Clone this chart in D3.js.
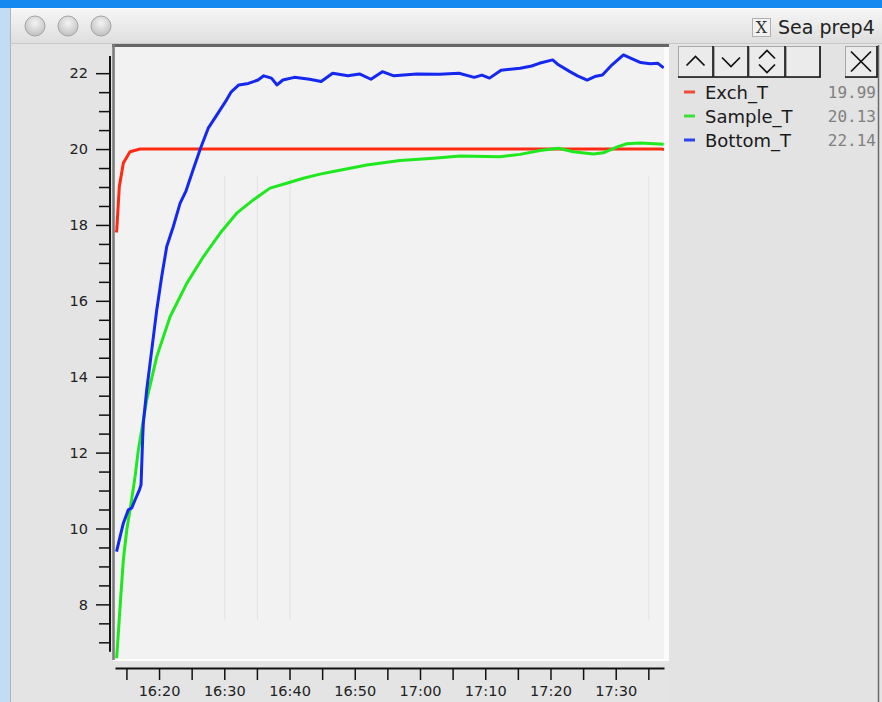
<!DOCTYPE html>
<html>
<head>
<meta charset="utf-8">
<script src="https://cdn.jsdelivr.net/npm/d3@7"></script>
<style>
  html, body { margin: 0; padding: 0; background: #e4e4e4; overflow: hidden; }
  svg { display: block; }
</style>
</head>
<body>
<svg id="chart" width="882" height="702"></svg>
<script>
// minutes after 16:00, and temperatures
const exchTime = [13.45, 13.52, 13.91, 14.53, 15.55, 17.09, 30, 45, 60, 75, 90, 97.0, 97.4]
const exchTemp = [17.8, 17.87, 19.01, 19.63, 19.93, 20.0, 20.0, 20.0, 20.0, 20.0, 20.0, 20.0, 19.99]

const sampleTime = [13.5, 13.76, 14.13, 14.53, 15.05, 15.71, 16.32, 16.83, 18.11, 19.65, 21.69, 24.25, 26.79, 29.35,
  31.91, 34.45, 37.01, 39.57, 42.12, 44.68, 46.72, 51.84, 56.94, 62.04, 66.14, 72.27, 75.33, 78.4, 81.2,
  83.5, 86.57, 88.1, 90.16, 91.69, 93.73, 97.35]
const sampleTemp = [6.58, 7.24, 8.2, 9.17, 9.96, 10.66, 11.36, 12.07, 13.39, 14.53, 15.58, 16.46, 17.16, 17.78,
  18.31, 18.66, 18.97, 19.1, 19.23, 19.34, 19.41, 19.58, 19.7, 19.76, 19.82, 19.8, 19.86, 19.96, 20.02,
  19.93, 19.87, 19.9, 20.05, 20.14, 20.16, 20.13]

const bottomTime = [13.49, 13.91, 14.53, 15.29, 15.82, 16.32, 16.98, 17.24, 17.5, 17.59, 18.11, 18.88, 19.65, 20.41,
  21.18, 22.19, 23.22, 24.14, 25.21, 26.36, 27.54, 28.72, 30.18, 31.07, 32.23, 33.7, 35.17, 36.05, 37.23,
  38.09, 38.98, 40.74, 43.08, 44.85, 46.61, 48.95, 50.72, 52.48, 54.23, 55.99, 59.52, 63.03, 65.97, 68.31,
  69.48, 70.66, 72.42, 75.35, 77.11, 78.28, 80.33, 81.22, 82.98, 84.15, 85.62, 86.78, 87.96, 89.44, 91.18,
  92.36, 93.83, 95.29, 96.47, 97.35]
const bottomTemp = [9.39, 9.7, 10.14, 10.49, 10.54, 10.75, 11.01, 11.15, 12.42, 12.77, 13.65, 14.7, 15.76, 16.64,
  17.43, 17.96, 18.57, 18.9, 19.45, 20.02, 20.55, 20.86, 21.25, 21.51, 21.69, 21.73, 21.82, 21.93, 21.87,
  21.69, 21.82, 21.89, 21.84, 21.78, 22.0, 21.93, 21.98, 21.84, 22.04, 21.93, 21.98, 21.97, 22.0, 21.89,
  21.95, 21.87, 22.08, 22.13, 22.19, 22.26, 22.35, 22.22, 22.04, 21.93, 21.82, 21.91, 21.95, 22.22, 22.48,
  22.39, 22.28, 22.25, 22.26, 22.14]

const seriesNames = ['Exch_T', 'Sample_T', 'Bottom_T']
const seriesColors = ['#ff2a12', '#1fe81f', '#1428f0']
const legendColors = ['#f24a3a', '#3ce03c', '#2a44ee']

const yTicks = d3.range(7, 22.01, 0.5)
const faintLineTimes = [30, 35, 40, 95]

const t0 = new Date(2009, 0, 1, 16, 0)
const toDate = m => new Date(t0.getTime() + m * 60000)
const fmt = d3.timeFormat('%H:%M')

const svg = d3.select('#chart')
const W = 882, H = 702
const plot = { left: 115, right: 664, top: 47, bottom: 659 }

const x = d3.scaleTime().domain([toDate(13.25), toDate(97.4)]).range([plot.left, plot.right])
const y = d3.scaleLinear().domain([6.56, 22.69]).range([plot.bottom, plot.top])

// ---- window chrome
const defs = svg.append('defs')
const tg = defs.append('linearGradient').attr('id', 'titlebar').attr('x1', 0).attr('x2', 0).attr('y1', 0).attr('y2', 1)
tg.append('stop').attr('offset', '0%').attr('stop-color', '#f6f6f6')
tg.append('stop').attr('offset', '100%').attr('stop-color', '#dedede')
const bg = defs.append('radialGradient').attr('id', 'btn').attr('cx', '50%').attr('cy', '35%').attr('r', '60%')
bg.append('stop').attr('offset', '0%').attr('stop-color', '#f4f4f4')
bg.append('stop').attr('offset', '100%').attr('stop-color', '#c4c4c4')

svg.append('rect').attr('width', W).attr('height', H).attr('fill', '#e4e4e4')
svg.append('rect').attr('x', 0).attr('y', 0).attr('width', 10).attr('height', H).attr('fill', '#c3dcf6')
svg.append('rect').attr('x', 0).attr('y', 0).attr('width', W).attr('height', 8).attr('fill', '#1689f0')
svg.append('rect').attr('x', 10).attr('y', 8).attr('width', W - 10).attr('height', 36).attr('fill', 'url(#titlebar)')
svg.append('line').attr('x1', 10).attr('x2', W).attr('y1', 8.5).attr('y2', 8.5).attr('stroke', '#ffffff')
svg.append('line').attr('x1', 10.5).attr('x2', 10.5).attr('y1', 8).attr('y2', H).attr('stroke', '#b4b4b4')
svg.append('line').attr('x1', 10).attr('x2', W).attr('y1', 43.5).attr('y2', 43.5).attr('stroke', '#c8c8c8')

svg.selectAll('circle.win').data([35, 68, 101]).enter().append('circle')
  .attr('class', 'win').attr('cx', d => d).attr('cy', 26).attr('r', 10)
  .attr('fill', 'url(#btn)').attr('stroke', '#a4a4a4').attr('stroke-width', 1)

svg.append('rect').attr('x', 752.5).attr('y', 18.5).attr('width', 18).attr('height', 18)
  .attr('fill', '#f2f2f2').attr('stroke', '#b0b0b0')
svg.append('text').attr('x', 761.5).attr('y', 33).attr('text-anchor', 'middle')
  .attr('font-family', 'DejaVu Serif').attr('font-size', 16).attr('fill', '#333').text('X')
svg.append('text').attr('x', 778).attr('y', 34)
  .attr('font-family', 'DejaVu Sans').attr('font-size', 19).attr('fill', '#222').text('Sea prep4')

// ---- right panel
svg.append('rect').attr('x', 669).attr('y', 45).attr('width', 209).attr('height', H - 45).attr('fill', '#e3e3e3')
svg.append('line').attr('x1', 878.5).attr('x2', 878.5).attr('y1', 45).attr('y2', H).attr('stroke', '#6a6a6a').attr('stroke-width', 1.5)

const buttons = [
  { x0: 678, x1: 713, icon: 'up' },
  { x0: 714, x1: 748, icon: 'down' },
  { x0: 749, x1: 785, icon: 'updown' },
  { x0: 786, x1: 820, icon: 'none' },
  { x0: 845, x1: 877, icon: 'close' }
]
const by0 = 46, by1 = 77
buttons.forEach(b => {
  const g = svg.append('g')
  g.append('rect').attr('x', b.x0 + 0.5).attr('y', by0 + 0.5).attr('width', b.x1 - b.x0).attr('height', by1 - by0)
    .attr('fill', '#ebebeb').attr('stroke', '#a8a8a8')
  g.append('path').attr('d', `M${b.x1},${by0} L${b.x1},${by1} L${b.x0},${by1}`)
    .attr('fill', 'none').attr('stroke', '#111').attr('stroke-width', 1.6)
  const cx = (b.x0 + b.x1) / 2, cy = (by0 + by1) / 2
  let d = ''
  if (b.icon === 'up') d = `M${cx - 9},${cy + 4} L${cx},${cy - 5} L${cx + 9},${cy + 4}`
  if (b.icon === 'down') d = `M${cx - 9},${cy - 4} L${cx},${cy + 5} L${cx + 9},${cy - 4}`
  if (b.icon === 'updown') d = `M${cx - 8},${cy - 3} L${cx},${cy - 11} L${cx + 8},${cy - 3} M${cx - 8},${cy + 3} L${cx},${cy + 11} L${cx + 8},${cy + 3}`
  if (b.icon === 'close') d = `M${cx - 10},${cy - 10} L${cx + 10},${cy + 10} M${cx - 10},${cy + 10} L${cx + 10},${cy - 10}`
  if (d) g.append('path').attr('d', d).attr('fill', 'none').attr('stroke', '#111').attr('stroke-width', 1.7)
})

const lastValues = [exchTemp, sampleTemp, bottomTemp].map(a => a[a.length - 1])
const legend = svg.append('g').selectAll('g').data(seriesNames).enter().append('g')
  .attr('transform', (d, i) => `translate(0, ${92 + i * 24})`)
legend.append('line').attr('x1', 684).attr('x2', 695).attr('y1', 0).attr('y2', 0)
  .attr('stroke', (d, i) => legendColors[i]).attr('stroke-width', 3)
legend.append('text').attr('x', 705).attr('y', 6.5)
  .attr('font-family', 'DejaVu Sans').attr('font-size', 18).attr('fill', '#1a1a1a').text(d => d)
legend.append('text').attr('x', 876).attr('y', 5.5).attr('text-anchor', 'end')
  .attr('font-family', 'DejaVu Sans Mono').attr('font-size', 16).attr('fill', '#808080')
  .text((d, i) => d3.format('.2f')(lastValues[i]))

// ---- plot area
svg.append('rect').attr('x', plot.left).attr('y', plot.top).attr('width', plot.right - plot.left)
  .attr('height', plot.bottom - plot.top).attr('fill', '#f2f2f2')
svg.append('rect').attr('x', plot.right).attr('y', plot.top).attr('width', 5).attr('height', plot.bottom - plot.top + 2).attr('fill', '#fbfbfb')
svg.append('line').attr('x1', plot.left - 2).attr('x2', plot.right + 5).attr('y1', plot.bottom + 1).attr('y2', plot.bottom + 1)
  .attr('stroke', '#ffffff').attr('stroke-width', 2)
svg.append('line').attr('x1', plot.left - 3).attr('x2', plot.right + 5).attr('y1', plot.top - 1.5).attr('y2', plot.top - 1.5)
  .attr('stroke', '#666').attr('stroke-width', 3)
svg.append('line').attr('x1', plot.left - 1.5).attr('x2', plot.left - 1.5).attr('y1', plot.top - 3).attr('y2', plot.bottom + 1)
  .attr('stroke', '#7a7a7a').attr('stroke-width', 2.5)

svg.append('g').selectAll('line').data(faintLineTimes).enter().append('line')
  .attr('x1', d => x(toDate(d)) + 0.5).attr('x2', d => x(toDate(d)) + 0.5)
  .attr('y1', y(19.3)).attr('y2', y(7.6)).attr('stroke', '#e1e1e1').attr('stroke-width', 1)

defs.append('clipPath').attr('id', 'clip').append('rect')
  .attr('x', plot.left).attr('y', plot.top).attr('width', plot.right - plot.left).attr('height', plot.bottom - plot.top)

const series = [
  exchTime.map((t, i) => ({ t: toDate(t), v: exchTemp[i] })),
  sampleTime.map((t, i) => ({ t: toDate(t), v: sampleTemp[i] })),
  bottomTime.map((t, i) => ({ t: toDate(t), v: bottomTemp[i] }))
]
const line = d3.line().x(d => x(d.t)).y(d => y(d.v))
svg.append('g').attr('clip-path', 'url(#clip)').selectAll('path').data(series).enter().append('path')
  .attr('d', line).attr('fill', 'none').attr('stroke', (d, i) => seriesColors[i])
  .attr('stroke-width', 3).attr('stroke-linejoin', 'round')

// ---- axes
const xAxis = svg.append('g').attr('transform', 'translate(0, 668)')
  .call(d3.axisBottom(x).ticks(d3.timeMinute.every(5)).tickSize(12).tickSizeOuter(0).tickPadding(6)
    .tickFormat(d => d.getMinutes() % 10 === 0 ? fmt(d) : ''))
xAxis.select('.domain').attr('stroke', '#111').attr('stroke-width', 2)
xAxis.selectAll('.tick line').attr('stroke', '#111').attr('stroke-width', 1.5)
xAxis.selectAll('text').attr('font-family', 'DejaVu Sans').attr('font-size', 14.5).attr('fill', '#222')

const yAxis = svg.append('g').attr('transform', 'translate(110, 0)')
  .call(d3.axisLeft(y).tickValues(yTicks).tickSize(14).tickSizeOuter(0).tickPadding(8)
    .tickFormat(d => d % 2 === 0 ? d : ''))
yAxis.select('.domain').attr('d', `M0,${y(22.45)}V${y(6.75)}`).attr('stroke', '#111').attr('stroke-width', 2)
yAxis.selectAll('.tick line').attr('stroke', '#111').attr('stroke-width', 1.5)
  .attr('x2', d => d % 2 === 0 ? -14 : -11)
yAxis.selectAll('text').attr('font-family', 'DejaVu Sans').attr('font-size', 14.5).attr('fill', '#222')
</script>
</body>
</html>
